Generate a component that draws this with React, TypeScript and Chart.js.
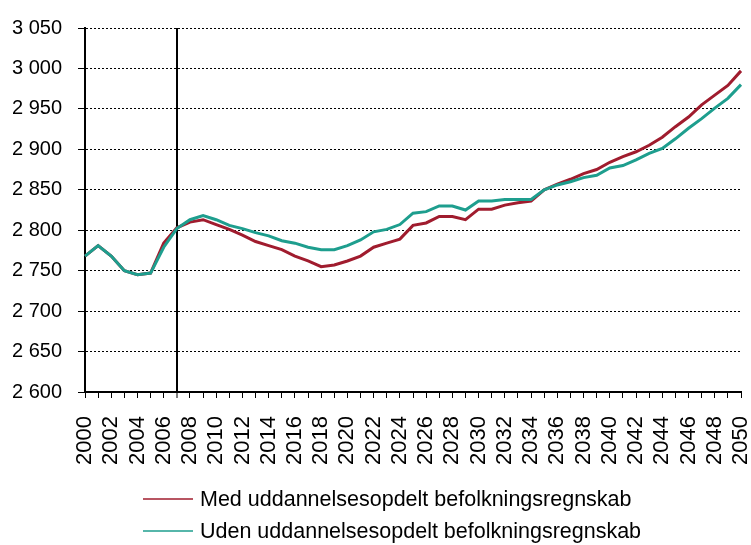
import React, { useEffect, useRef } from "react";
import { Chart, registerables } from "chart.js";

Chart.register(...registerables);

const years: string[] = [];
for (let y = 2000; y <= 2050; y++) years.push(String(y));

const medSeries = [
  2768, 2781, 2768, 2750, 2745, 2747, 2784, 2803, 2810, 2813,
  2807, 2801, 2794, 2786, 2781, 2776, 2768, 2762, 2755, 2757,
  2762, 2768, 2779, 2784, 2789, 2806, 2809, 2817, 2817, 2813,
  2826, 2826, 2831, 2834, 2836, 2850, 2857, 2863, 2870, 2875,
  2884, 2891, 2897, 2905, 2915, 2928, 2940, 2955, 2967, 2979,
  2997,
];

const udenSeries = [
  2768, 2781, 2768, 2750, 2745, 2747, 2779, 2802, 2813, 2818,
  2813, 2806, 2802, 2797, 2793, 2787, 2784, 2779, 2776, 2776,
  2781, 2788, 2798, 2801, 2807, 2821, 2823, 2830, 2830, 2825,
  2836, 2836, 2838, 2838, 2838, 2850, 2856, 2860, 2865, 2868,
  2877, 2880, 2887, 2895, 2901, 2913, 2926, 2938, 2951, 2963,
  2980,
];

const seriesNames = [
  "Med uddannelsesopdelt befolkningsregnskab",
  "Uden uddannelsesopdelt befolkningsregnskab",
];

const markerYearIndex = 7; // 2007

const RED = "#A01C2E";
const TEAL = "#1E9E8E";
const FONT = "'Liberation Sans', Arial, sans-serif";

const legendPlugin = {
  id: "stackedLegend",
  afterDraw(chart: any) {
    const ctx = chart.ctx;
    const h = chart.height;
    const rows = [h - 46, h - 14];
    const x0 = 143;
    ctx.save();
    ctx.font = `21.5px ${FONT}`;
    ctx.textBaseline = "middle";
    ctx.textAlign = "left";
    chart.data.datasets.forEach((ds: any, i: number) => {
      const y = rows[i];
      ctx.strokeStyle = ds.borderColor;
      ctx.lineWidth = 1.5;
      ctx.beginPath();
      ctx.moveTo(x0, y);
      ctx.lineTo(x0 + 50, y);
      ctx.stroke();
      ctx.fillStyle = "#000";
      ctx.fillText(ds.label, x0 + 57, y + 1);
    });
    ctx.restore();
  },
};

export default function App() {
  const ref = useRef<HTMLCanvasElement | null>(null);

  useEffect(() => {
    document.body.style.margin = "0";
    const canvas = ref.current;
    if (!canvas) return;
    const chart = new Chart(canvas, {
      type: "line",
      data: {
        labels: years,
        datasets: [
          {
            label: seriesNames[0],
            data: medSeries,
            borderColor: RED,
            backgroundColor: RED,
            borderWidth: 3,
            pointRadius: 0,
            tension: 0,
            order: 1,
          },
          {
            label: seriesNames[1],
            data: udenSeries,
            borderColor: TEAL,
            backgroundColor: TEAL,
            borderWidth: 3,
            pointRadius: 0,
            tension: 0,
            order: 0,
          },
        ],
      },
      plugins: [legendPlugin],
      options: {
        responsive: false,
        animation: false,
        devicePixelRatio: 1,
        layout: { padding: { top: 9, left: 12, right: 0, bottom: 80 } },
        plugins: {
          tooltip: { enabled: false },
          legend: { display: false },
        },
        scales: {
          x: {
            type: "category",
            offset: false,
            afterFit: (scale: any) => {
              scale.paddingRight = 10;
              scale.height = 73;
            },
            grid: {
              display: true,
              drawOnChartArea: true,
              drawTicks: true,
              offset: false,
              color: (ctx: any) => (ctx.index === markerYearIndex ? "#000" : "rgba(0,0,0,0)"),
              lineWidth: (ctx: any) => (ctx.index === markerYearIndex ? 2 : 1),
              tickColor: "#000",
              tickWidth: 1,
              tickLength: 6,
            },
            border: { display: true, color: "#000", width: 2 },
            ticks: {
              autoSkip: false,
              maxRotation: 90,
              minRotation: 90,
              padding: 18,
              color: "#000",
              font: { family: FONT, size: 22 },
              callback: (_v: any, i: number) => (i % 2 === 0 ? years[i] : ""),
            },
          },
          y: {
            min: 2600,
            max: 3050,
            afterFit: (scale: any) => {
              scale.width = 73;
            },
            grid: {
              color: "#000",
              lineWidth: 1,
              tickColor: "#000",
              tickWidth: 1,
              tickLength: 7,
              tickBorderDash: [],
            },
            border: { display: true, color: "#000", width: 2, dash: [2, 2] },
            ticks: {
              stepSize: 50,
              padding: 16,
              color: "#000",
              font: { family: FONT, size: 20 },
              callback: (v: any) => {
                const n = Number(v);
                const s = String(n);
                return s.length > 3 ? s.slice(0, s.length - 3) + " " + s.slice(-3) : s;
              },
            },
          },
        },
      },
    });
    return () => chart.destroy();
  }, []);

  return (
    <div style={{ width: 751, height: 545 }}>
      <canvas ref={ref} width={751} height={545} />
    </div>
  );
}
